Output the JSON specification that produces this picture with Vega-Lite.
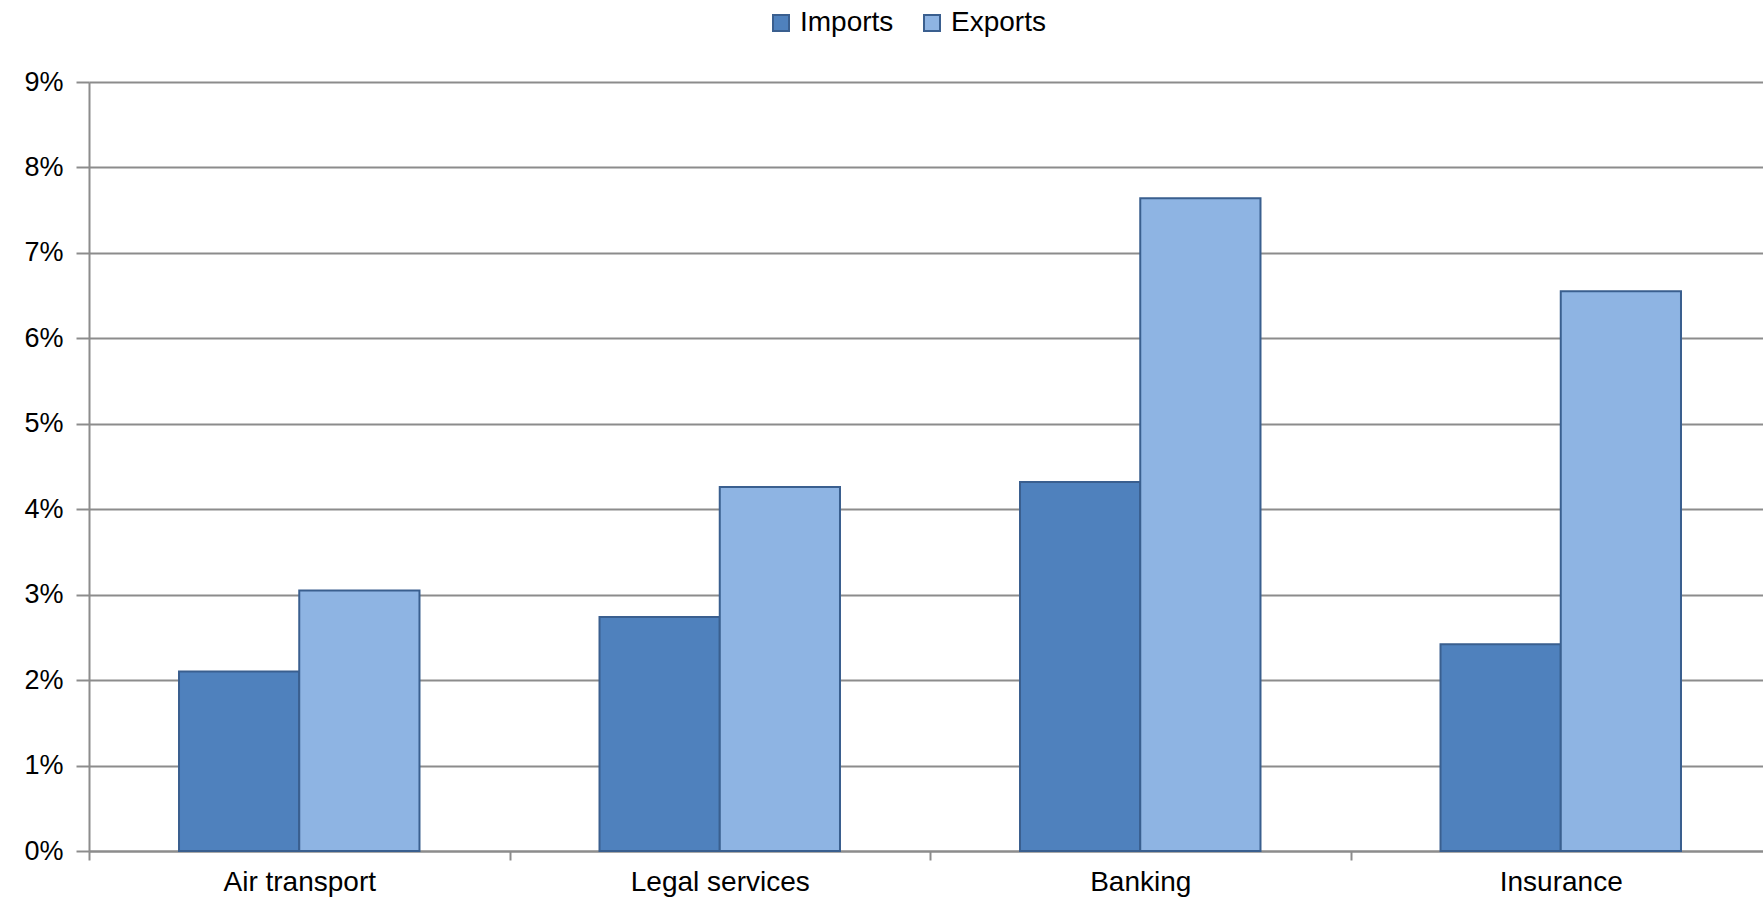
{
  "$schema": "https://vega.github.io/schema/vega-lite/v6.json",
  "width": 1674,
  "height": 769,
  "autosize": {"type": "none"},
  "padding": {"left": 89, "top": 82, "right": 0, "bottom": 49},
  "background": "white",
  "data": {
    "values": [
      {"category": "Air transport", "flow": "Imports", "value": 0.021},
      {"category": "Air transport", "flow": "Exports", "value": 0.0305},
      {"category": "Legal services", "flow": "Imports", "value": 0.0274},
      {"category": "Legal services", "flow": "Exports", "value": 0.0426},
      {"category": "Banking", "flow": "Imports", "value": 0.0432},
      {"category": "Banking", "flow": "Exports", "value": 0.0764},
      {"category": "Insurance", "flow": "Imports", "value": 0.0242},
      {"category": "Insurance", "flow": "Exports", "value": 0.0655}
    ]
  },
  "mark": {"type": "bar", "stroke": "#3A5F8F", "strokeWidth": 2},
  "encoding": {
    "x": {
      "field": "category",
      "type": "nominal",
      "sort": ["Air transport", "Legal services", "Banking", "Insurance"],
      "scale": {"range": [0, 1682], "paddingInner": 0, "paddingOuter": 0},
      "axis": {
        "title": null,
        "labelAngle": 0,
        "tickBand": "extent",
        "domainColor": "#8C8C8C",
        "domainWidth": 2,
        "tickColor": "#8C8C8C",
        "tickWidth": 2,
        "tickSize": 9,
        "labelPadding": 8,
        "labelFont": "Liberation Sans",
        "labelFontSize": 28,
        "labelColor": "#000000",
        "grid": false
      }
    },
    "xOffset": {
      "field": "flow",
      "sort": ["Imports", "Exports"],
      "scale": {"paddingInner": 0, "paddingOuter": 0.7485}
    },
    "y": {
      "field": "value",
      "type": "quantitative",
      "scale": {"domain": [0, 0.09], "nice": false},
      "axis": {
        "title": null,
        "values": [0, 0.01, 0.02, 0.03, 0.04, 0.05, 0.06, 0.07, 0.08, 0.09],
        "format": ".0%",
        "domainColor": "#8C8C8C",
        "domainWidth": 2,
        "gridColor": "#8C8C8C",
        "gridWidth": 2,
        "tickColor": "#8C8C8C",
        "tickWidth": 2,
        "tickSize": 13,
        "labelPadding": 13,
        "labelFont": "Liberation Sans",
        "labelFontSize": 27,
        "labelColor": "#000000"
      }
    },
    "color": {
      "field": "flow",
      "type": "nominal",
      "sort": ["Imports", "Exports"],
      "scale": {"domain": ["Imports", "Exports"], "range": ["#4F81BD", "#8EB4E3"]},
      "legend": {
        "title": null,
        "orient": "none",
        "legendX": 678,
        "legendY": -73,
        "direction": "horizontal",
        "symbolType": "square",
        "symbolSize": 256,
        "symbolStrokeColor": "#3A5F8F",
        "symbolStrokeWidth": 2,
        "symbolOpacity": 1,
        "labelOffset": 5,
        "columnPadding": 24,
        "labelFont": "Liberation Sans",
        "labelFontSize": 28,
        "labelColor": "#000000"
      }
    }
  },
  "config": {"view": {"stroke": null}}
}
